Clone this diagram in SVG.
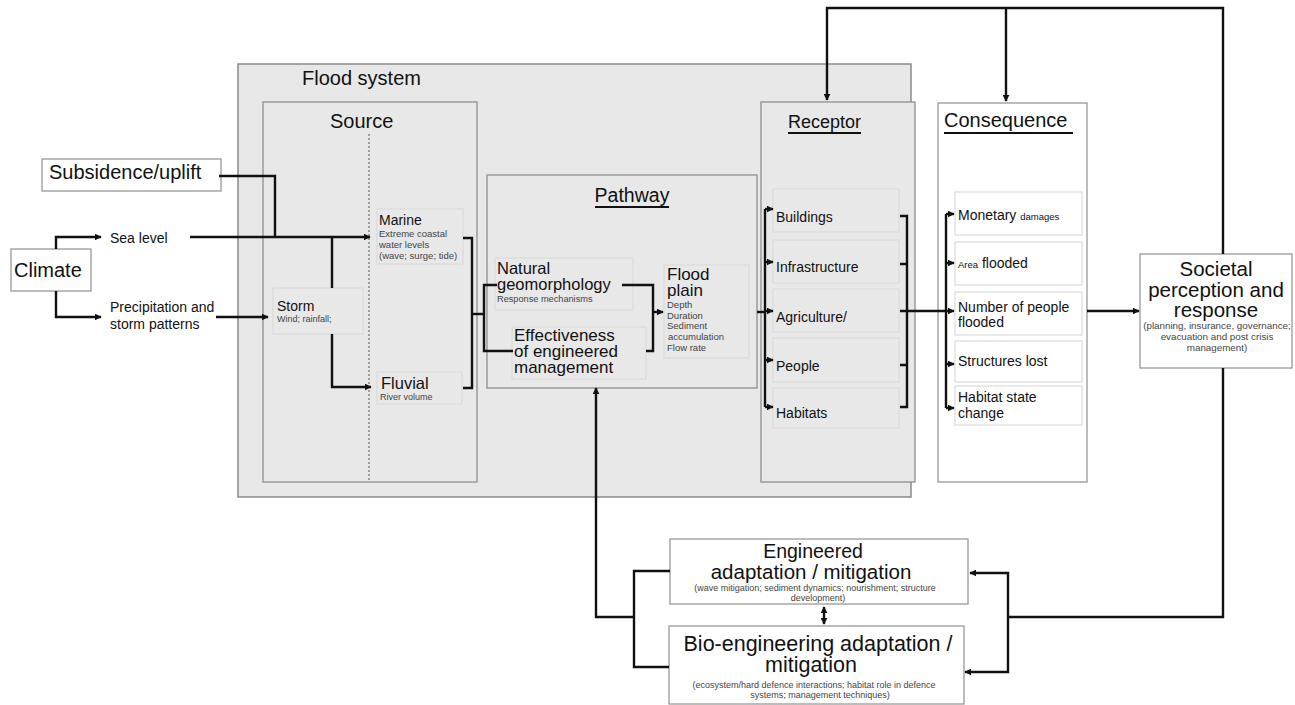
<svg xmlns="http://www.w3.org/2000/svg" width="1295" height="705" viewBox="0 0 1295 705">
<defs>
<style>
text{font-family:"Liberation Sans",Arial,sans-serif;fill:#111}
.sys{fill:#e8e8e8;stroke:#8a8a8a;stroke-width:1.5}
.box{fill:#e8e8e8;stroke:#8f8f8f;stroke-width:1.3}
.inner{fill:#e8e8e8;stroke:#d8d8d8;stroke-width:1}
.wbox{fill:#fff;stroke:#999;stroke-width:1.3}
.winner{fill:#fff;stroke:#d4d4d4;stroke-width:1}
.ln{fill:none;stroke:#111;stroke-width:2.4;stroke-linejoin:miter}
.ul{stroke:#111;stroke-width:2}
.t20{font-size:20px}
.t14{font-size:14px}
.t17{font-size:17px}
.sub{font-size:9.5px;fill:#444}
.ctr{text-anchor:middle}
</style>
<marker id="ah" viewBox="0 0 10 10" refX="9" refY="5" markerWidth="7" markerHeight="7" markerUnits="userSpaceOnUse" orient="auto-start-reverse"><path d="M0,0 L10,5 L0,10 z" fill="#111"/></marker>
</defs>
<rect width="1295" height="705" fill="#fff"/>

<g id="flood-system">
<rect class="sys" x="238" y="64" width="673" height="433"/>
<text class="t20" x="302" y="85">Flood system</text>
</g>

<g id="source">
<rect class="box" x="263" y="102" width="214" height="380"/>
<text class="t20" x="330" y="128">Source</text>
<line x1="369" y1="134" x2="369" y2="482" stroke="#555" stroke-width="1" stroke-dasharray="2,2"/>
</g>

<g id="storm">
<rect class="inner" x="273" y="288" width="90" height="46"/>
<text class="t14" x="277" y="311">Storm</text>
<text class="sub" x="277" y="322" style="font-size:9px">Wind; rainfall;</text>
</g>

<g id="marine">
<rect class="inner" x="377" y="209" width="86" height="55"/>
<text class="t14" x="379" y="225">Marine</text>
<text class="sub" x="379" y="237">Extreme coastal</text>
<text class="sub" x="379" y="248">water levels</text>
<text class="sub" x="379" y="259">(wave; surge; tide)</text>
</g>

<g id="fluvial">
<rect class="inner" x="377" y="372" width="85" height="32"/>
<text x="381" y="389" style="font-size:16.5px">Fluvial</text>
<text class="sub" x="380" y="400" style="font-size:9px">River volume</text>
</g>

<g id="pathway">
<rect class="box" x="487" y="175" width="270" height="213"/>
<text class="ctr" x="632" y="202" style="font-size:19.5px">Pathway</text>
<line class="ul" x1="595" y1="207" x2="669" y2="207"/>
</g>

<g id="natural-geomorphology">
<rect class="inner" x="495" y="258" width="138" height="52"/>
<text x="497" y="274" style="font-size:16.5px">Natural</text>
<text x="497" y="290" style="font-size:16.5px">geomorphology</text>
<text class="sub" x="497" y="302" style="font-size:9.2px">Response mechanisms</text>
</g>

<g id="effectiveness">
<rect class="inner" x="512" y="327" width="134" height="52"/>
<text class="t17" x="514" y="341">Effectiveness</text>
<text class="t17" x="514" y="357">of engineered</text>
<text class="t17" x="514" y="373">management</text>
</g>

<g id="flood-plain">
<rect class="inner" x="664" y="265" width="85" height="93"/>
<text class="t17" x="667" y="280">Flood</text>
<text class="t17" x="667" y="296">plain</text>
<text class="sub" x="667" y="308">Depth</text>
<text class="sub" x="667" y="318.5">Duration</text>
<text class="sub" x="667" y="329">Sediment</text>
<text class="sub" x="668" y="339.5">accumulation</text>
<text class="sub" x="667" y="351">Flow rate</text>
</g>

<g id="receptor">
<rect class="box" x="761" y="102" width="154" height="380"/>
<text x="788" y="128" style="font-size:18px">Receptor</text>
<line class="ul" x1="788" y1="133" x2="861" y2="133"/>
<rect class="inner" x="773" y="189" width="126" height="43"/>
<rect class="inner" x="773" y="240" width="126" height="43"/>
<rect class="inner" x="773" y="289" width="126" height="43"/>
<rect class="inner" x="773" y="338" width="126" height="44"/>
<rect class="inner" x="773" y="388" width="126" height="40"/>
<text class="t14" x="776" y="222">Buildings</text>
<text class="t14" x="776" y="272">Infrastructure</text>
<text class="t14" x="776" y="322">Agriculture/</text>
<text class="t14" x="776" y="371">People</text>
<text class="t14" x="776" y="418">Habitats</text>
</g>

<g id="consequence">
<rect class="wbox" x="938" y="103" width="149" height="379"/>
<text class="t20" x="944" y="127">Consequence</text>
<line class="ul" x1="944" y1="133" x2="1073" y2="133"/>
<rect class="winner" x="955" y="192" width="127" height="43"/>
<rect class="winner" x="955" y="242" width="127" height="43"/>
<rect class="winner" x="955" y="292" width="127" height="43"/>
<rect class="winner" x="955" y="341" width="127" height="41"/>
<rect class="winner" x="955" y="386" width="127" height="39"/>
<text class="t14" x="958" y="220">Monetary <tspan style="font-size:9.5px">damages</tspan></text>
<text class="t14" x="958" y="268"><tspan style="font-size:9.5px">Area</tspan> flooded</text>
<text class="t14" x="958" y="312">Number of people</text>
<text class="t14" x="958" y="327">flooded</text>
<text class="t14" x="958" y="366">Structures lost</text>
<text class="t14" x="958" y="402">Habitat state</text>
<text class="t14" x="958" y="418">change</text>
</g>

<g id="societal">
<rect class="wbox" x="1140" y="254" width="152" height="114"/>
<text class="ctr" x="1216" y="276" style="font-size:20.5px">Societal</text>
<text class="ctr" x="1216" y="297" style="font-size:20.5px">perception and</text>
<text class="ctr" x="1216" y="317" style="font-size:20.5px">response</text>
<text class="sub ctr" x="1217" y="329" style="font-size:9.8px">(planning, insurance, governance;</text>
<text class="sub ctr" x="1217" y="340" style="font-size:9.8px">evacuation and post crisis</text>
<text class="sub ctr" x="1217" y="351" style="font-size:9.8px">management)</text>
</g>

<g id="climate">
<rect class="wbox" x="11" y="249" width="80" height="42"/>
<text class="t20" x="14" y="277">Climate</text>
</g>

<g id="subsidence">
<rect class="wbox" x="42" y="159" width="179" height="32"/>
<text class="t20" x="49" y="179">Subsidence/uplift</text>
</g>

<g id="sea-level"><text class="t14" x="110" y="243">Sea level</text></g>
<g id="precipitation">
<text class="t14" x="110" y="312">Precipitation and</text>
<text class="t14" x="110" y="329">storm patterns</text>
</g>

<g id="engineered">
<rect class="wbox" x="670" y="539" width="298" height="65"/>
<text class="ctr" x="813" y="558" style="font-size:19.5px">Engineered</text>
<text class="ctr" x="811" y="579" style="font-size:20.5px">adaptation / mitigation</text>
<text class="sub ctr" x="815" y="591" style="font-size:9px">(wave mitigation; sediment dynamics; nourishment; structure</text>
<text class="sub ctr" x="818" y="601" style="font-size:9px">development)</text>
</g>

<g id="bio-engineering">
<rect class="wbox" x="669" y="626" width="295" height="78"/>
<text class="ctr" x="818" y="651" style="font-size:21.5px">Bio-engineering adaptation /</text>
<text class="ctr" x="811" y="672" style="font-size:21.5px">mitigation</text>
<text class="sub ctr" x="814" y="688" style="font-size:9px">(ecosystem/hard defence interactions; habitat  role in defence</text>
<text class="sub ctr" x="820" y="698" style="font-size:9px">systems; management techniques)</text>
</g>

<g id="connectors">
<path class="ln" d="M56,249 V237 H101" marker-end="url(#ah)"/>
<path class="ln" d="M56,291 V317 H101" marker-end="url(#ah)"/>
<path class="ln" d="M219,176 H275 V237"/>
<path class="ln" d="M190,237 H370" marker-end="url(#ah)"/>
<path class="ln" d="M216,317 H268" marker-end="url(#ah)"/>
<path class="ln" d="M332,237 V288"/>
<path class="ln" d="M332,334 V387 H371" marker-end="url(#ah)"/>
<path class="ln" d="M463,238 H472 V388 H463"/>
<path class="ln" d="M472,314 H484"/>
<path class="ln" d="M497,285 H484 V351 H513"/>
<path class="ln" d="M622,285 H653 V351 H646"/>
<path class="ln" d="M653,312 H663" marker-end="url(#ah)"/>
<path class="ln" d="M757,312 H765"/>
<path class="ln" d="M765,209 V407"/>
<path class="ln" d="M765,209 H773" marker-end="url(#ah)"/>
<path class="ln" d="M765,262 H773" marker-end="url(#ah)"/>
<path class="ln" d="M765,311 H773" marker-end="url(#ah)"/>
<path class="ln" d="M765,360 H773" marker-end="url(#ah)"/>
<path class="ln" d="M765,407 H773" marker-end="url(#ah)"/>
<path class="ln" d="M900,216 H907 V407 H900"/>
<path class="ln" d="M900,264 H907 M900,365 H907"/>
<path class="ln" d="M900,311 H946"/>
<path class="ln" d="M946,214 V408"/>
<path class="ln" d="M946,214 H954" marker-end="url(#ah)"/>
<path class="ln" d="M946,263 H954" marker-end="url(#ah)"/>
<path class="ln" d="M946,311 H954" marker-end="url(#ah)"/>
<path class="ln" d="M946,364 H954" marker-end="url(#ah)"/>
<path class="ln" d="M946,408 H954" marker-end="url(#ah)"/>
<path class="ln" d="M1087,311 H1139" marker-end="url(#ah)"/>
<path class="ln" d="M1223,254 V8 H827 V100" marker-end="url(#ah)"/>
<path class="ln" d="M1006,8 V101" marker-end="url(#ah)"/>
<path class="ln" d="M1223,368 V617 H1008"/>
<path class="ln" d="M1008,617 V573 H970" marker-end="url(#ah)"/>
<path class="ln" d="M1008,617 V672 H965" marker-end="url(#ah)"/>
<path class="ln" d="M670,571 H634 V667 H669"/>
<path class="ln" d="M634,617 H596 V388" marker-end="url(#ah)"/>
<path class="ln" d="M824,607 V624" marker-start="url(#ah)" marker-end="url(#ah)"/>
</g>
</svg>
